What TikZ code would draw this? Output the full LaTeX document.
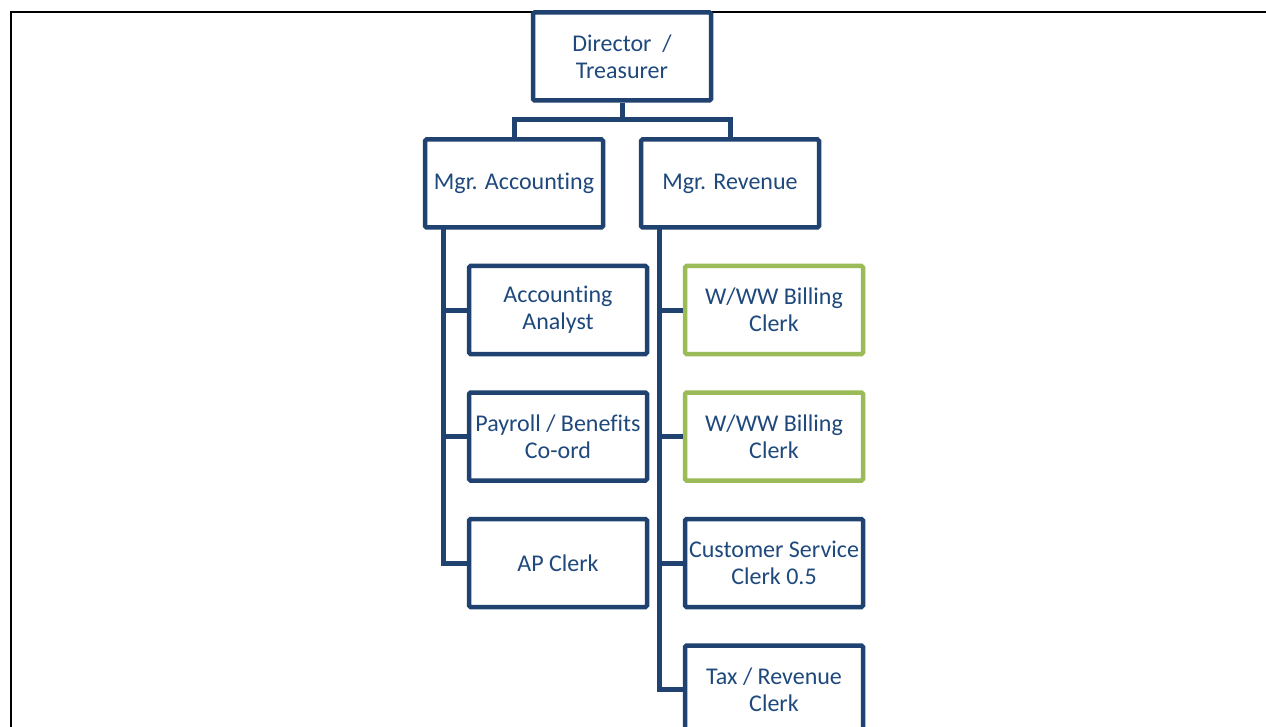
\documentclass[tikz,border=0pt]{standalone}
\usepackage{fontspec}
\setmainfont{Carlito}[Ligatures={NoCommon}]
\definecolor{navy}{RGB}{31,66,112}
\definecolor{navytext}{RGB}{31,73,125}
\definecolor{leaf}{RGB}{155,187,89}
\tikzset{
  box/.style={draw=navy, line width=4.5pt, rectangle, rounded corners=1.5pt,
    minimum width=178pt, minimum height=88pt, inner sep=0pt, align=center,
    text=navytext, font=\fontsize{24}{27}\selectfont},
  greenbox/.style={box, draw=leaf},
  link/.style={draw=navy, line width=5pt},
  frame/.style={draw=black, line width=2pt}
}
\begin{document}
\begin{tikzpicture}[x=1pt,y=-1pt]
\clip (0,0) rectangle (1266,727);
\fill[white] (0,0) rectangle (1266,727);
\draw[frame] (10.5,800) -- (10.5,12) -- (1300,12);

\node[box] (dir) at (622,56.5) {Director\ \ /\\Treasurer};
\node[box] (macc) at (514,183.5) {Mgr. Accounting};
\node[box] (mrev) at (730,183.5) {Mgr. Revenue};

\node[box] (aa) at (558,310) {Accounting\\Analyst};
\node[box] (pay) at (558,436.5) {Payroll / Benefits\\Co-ord};
\node[box] (ap) at (558,563) {AP Clerk};

\node[greenbox] (b1) at (774,310) {W/WW Billing\\Clerk};
\node[greenbox] (b2) at (774,436.5) {W/WW Billing\\Clerk};
\node[box] (cs) at (774,563) {Customer Service\\Clerk 0.5};
\node[box] (tax) at (774,689.5) {Tax / Revenue\\Clerk};

\coordinate (bar) at (622,120);
\draw[link] (dir.south) -- (bar) -| (macc.north);
\draw[link] (bar) -| (mrev.north);

\coordinate (ta) at (443,227.5);
\draw[link] (ta) |- (ap.west);
\draw[link] (ta |- aa.west) -- (aa.west);
\draw[link] (ta |- pay.west) -- (pay.west);

\coordinate (tr) at (659,227.5);
\draw[link] (tr) |- (tax.west);
\draw[link] (tr |- b1.west) -- (b1.west);
\draw[link] (tr |- b2.west) -- (b2.west);
\draw[link] (tr |- cs.west) -- (cs.west);
\end{tikzpicture}
\end{document}
